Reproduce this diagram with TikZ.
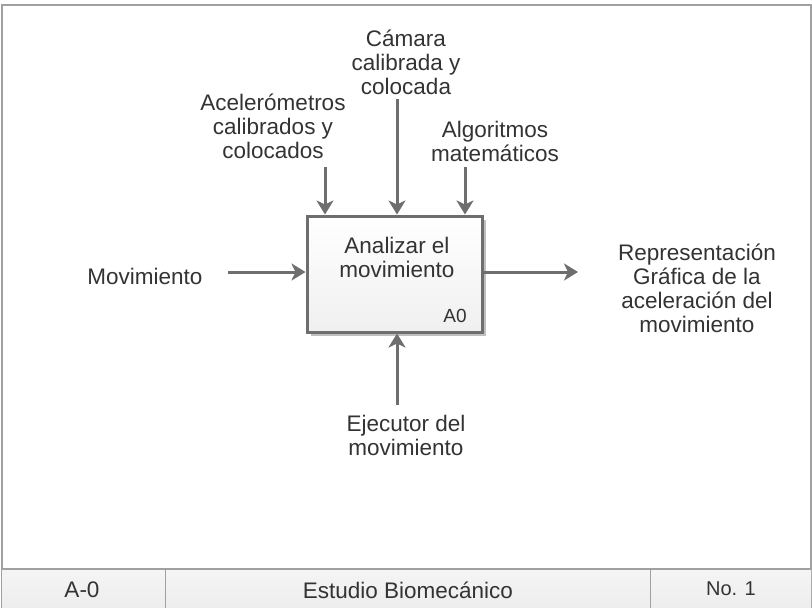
\documentclass[tikz,border=0pt]{standalone}
\usepackage{fontspec}
\setmainfont{Liberation Sans}
\usetikzlibrary{arrows.meta}
\definecolor{ln}{HTML}{6E6E6E}
\definecolor{tx}{HTML}{333333}
\definecolor{fr}{HTML}{A0A0A0}
\tikzset{
  lbl/.style={text=tx, align=center, font=\fontsize{22.5}{24}\selectfont, inner sep=0pt},
  arr/.style={draw=ln, line width=3pt, -{Stealth[length=14pt,width=17pt,inset=4pt]}},
  funcbox/.style={draw=ln, line width=3pt, top color=white, bottom color=black!6, minimum width=175pt, minimum height=116pt, inner sep=0pt}
}
\begin{document}
\begin{tikzpicture}[x=1pt,y=-1pt]
\useasboundingbox (0,0) rectangle (812,608);
\fill[white] (0,0) rectangle (812,608);
% frame
\draw[fr, line width=2pt] (2,620) -- (2,5) -- (811,5) -- (811,620);
% bottom band
\shade[top color=black!4, bottom color=black!7] (2,569) rectangle (811,608);
\draw[fr, line width=2pt] (2,569) -- (811,569);
\draw[fr, line width=1pt] (165,569) -- (165,608);
\draw[fr, line width=1pt] (650,569) -- (650,608);
\node[lbl] (ta) at (82,590) {A-0};
\node[lbl] (tb) at (408,590) {Estudio Biomecánico};
\node[lbl, font=\fontsize{20}{22}\selectfont] (tc) at (731,589) {No. 1};
% box
\fill[black!25] (311,220) rectangle (486,336);
\node[funcbox] (box) at (394.5,274) {};
\node[lbl] (boxt) at (397,257) {Analizar el\\movimiento};
\node[lbl, font=\fontsize{19}{22}\selectfont] (a0) at (455,316) {A0};
% labels
\node[lbl] (acc) at (273,126) {Acelerómetros\\calibrados y\\colocados};
\node[lbl] (cam) at (406,62) {Cámara\\calibrada y\\colocada};
\node[lbl] (alg) at (495,141) {Algoritmos\\matemáticos};
\node[lbl] (mov) at (145,276) {Movimiento};
\node[lbl] (out) at (697,288) {Representación\\Gráfica de la\\aceleración del\\movimiento};
\node[lbl] (eje) at (406,435) {Ejecutor del\\movimiento};
% connector endpoints
\coordinate (accS) at (325,167);
\coordinate (camS) at (397,99);
\coordinate (algS) at (465,167);
\coordinate (movS) at (228,272);
\coordinate (outE) at (578,272);
\coordinate (ejeS) at (397,405);
\draw[arr] (accS) -- (accS |- box.north);
\draw[arr] (camS) -- (camS |- box.north);
\draw[arr] (algS) -- (algS |- box.north);
\draw[arr] (movS) -- (movS -| box.west);
\draw[arr] (box.east |- outE) -- (outE);
\draw[arr] (ejeS) -- (ejeS |- box.south);
\end{tikzpicture}
\end{document}
